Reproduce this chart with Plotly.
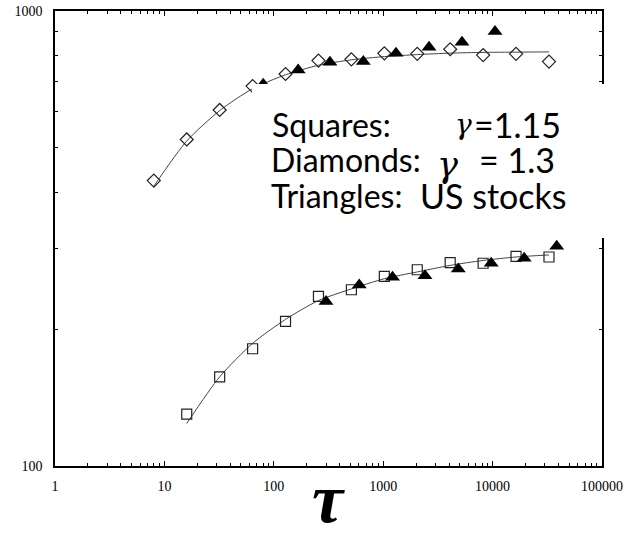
import plotly.graph_objects as go

# ---- data -------------------------------------------------------------
# model, gamma = 1.3 (diamonds)
diamond_tau = [8, 16, 32, 64, 128, 256, 512, 1024, 2048, 4096, 8192, 16384, 32768]
diamond_val = [424, 522, 606, 684, 727, 778, 783, 807, 805, 824, 800, 805, 774]

# model, gamma = 1.15 (squares)
square_tau = [16, 32, 64, 128, 256, 512, 1024, 2048, 4096, 8192, 16384, 32768]
square_val = [130, 157, 181, 208, 236, 244, 261, 270, 280, 279, 289, 288]

# US stocks (triangles), upper and lower sets
us_upper_tau = [80, 167, 326, 658, 1309, 2623, 5250, 10520]
us_upper_val = [690, 742, 772, 774, 808, 832, 854, 901]
us_lower_tau = [300, 604, 1217, 2410, 4857, 9710, 19450, 38550]
us_lower_val = [230, 250, 260, 262, 271, 279, 286, 304]

# fitted curves
fit_upper_tau = [8, 16, 32, 64, 128, 256, 512, 1024, 2048, 4096, 8192, 16384, 32768]
fit_upper_val = [412, 518, 604, 675, 724, 760, 781, 794, 802, 808, 811, 812, 813]
fit_lower_tau = [16, 32, 64, 128, 256, 512, 1024, 2048, 4096, 8192, 16384, 32768]
fit_lower_val = [124, 157, 186, 210, 231, 245, 258, 267, 276, 283, 288, 291]

x_tick_vals = [1, 10, 100, 1000, 10000, 100000]
x_tick_text = ["1", "10", "100", "1000", "10000", "100000"]
y_tick_vals = [100, 1000]
y_tick_text = ["100", "1000"]

# ---- figure -----------------------------------------------------------
W, H = 629, 534
ML, MR, MT, MB = 55, 27, 11, 68
PW, PH = W - ML - MR, H - MT - MB


def px_x(px):
    return (px - ML) / PW


def px_y(py):
    return (H - MB - py) / PH


fig = go.Figure()

for tx, ty in [(fit_upper_tau, fit_upper_val), (fit_lower_tau, fit_lower_val)]:
    fig.add_trace(go.Scatter(
        x=tx, y=ty, mode="lines",
        line=dict(color="#444444", width=1, shape="spline", smoothing=0.7),
        showlegend=False, hoverinfo="skip"))

fig.add_trace(go.Scatter(
    x=diamond_tau, y=diamond_val, mode="markers",
    marker=dict(symbol="diamond-open", size=10, color="#222222",
                line=dict(width=1.2, color="#222222")),
    showlegend=False))

fig.add_trace(go.Scatter(
    x=square_tau, y=square_val, mode="markers",
    marker=dict(symbol="square-open", size=10, color="#222222",
                line=dict(width=1.2, color="#222222")),
    showlegend=False))

for tx, ty in [(us_upper_tau, us_upper_val), (us_lower_tau, us_lower_val)]:
    fig.add_trace(go.Scatter(
        x=tx, y=ty, mode="markers",
        marker=dict(symbol="triangle-up", size=13, color="black",
                    line=dict(width=0)),
        showlegend=False))

tick_font = dict(family="Liberation Serif", size=14, color="black")

fig.update_xaxes(
    type="log", range=[0, 5], showgrid=False, zeroline=False, automargin=False,
    showline=True, linecolor="black", linewidth=1.5, mirror="ticks",
    ticks="inside", ticklen=5, tickwidth=1, tickcolor="black",
    tickmode="array", tickvals=x_tick_vals, ticktext=x_tick_text,
    tickfont=tick_font, ticklabelstandoff=6,
    minor=dict(ticks="inside", ticklen=3, tickwidth=1, tickcolor="black",
               dtick="D1", showgrid=False),
)
fig.update_yaxes(
    type="log", range=[2, 3], showgrid=False, zeroline=False, automargin=False,
    showline=True, linecolor="black", linewidth=1.5, mirror="ticks",
    ticks="inside", ticklen=5, tickwidth=1, tickcolor="black",
    tickmode="array", tickvals=y_tick_vals, ticktext=y_tick_text,
    tickfont=tick_font, ticklabelstandoff=8,
    minor=dict(ticks="inside", ticklen=3, tickwidth=1, tickcolor="black",
               dtick="D1", showgrid=False),
)

# white text panel laid over the right part of the plot
fig.add_shape(type="rect", xref="paper", yref="paper",
              x0=px_x(252), x1=px_x(640), y0=px_y(238), y1=px_y(84),
              fillcolor="white", line=dict(width=0), layer="above")

sans = dict(family="Lato", size=32, color="black")
sans_wide = dict(family="Lato", size=34, color="black")
greek = "DejaVu Serif"
nb = "\u00a0"

labels = [
    ("Squares:", 270, 124.5, sans),
    ("<i>γ</i>", 453, 124, dict(family=greek, size=28, color="black")),
    ("=1.15", 472, 124.5, sans_wide),
    ("Diamonds:", 269, 159.5, sans),
    ("<i>γ</i>", 435, 165, dict(family=greek, size=35, color="black")),
    ("=" + nb + "1.3", 477, 159.5, sans_wide),
    ("Triangles:", 269, 195, sans),
    ("US stocks", 418, 195, sans_wide),
]
for text, x, y, font in labels:
    fig.add_annotation(text=text, xref="paper", yref="paper",
                       x=px_x(x), y=px_y(y), xanchor="left", yanchor="middle",
                       showarrow=False, font=font)

# axis title
fig.add_annotation(text="<b><i>τ</i></b>", xref="paper", yref="paper",
                   x=px_x(328), y=px_y(539), xanchor="center", yanchor="bottom",
                   showarrow=False,
                   font=dict(family="Liberation Serif", size=70, color="black"))

fig.update_layout(
    template="none",
    width=W, height=H, autosize=False,
    margin=dict(l=ML, r=MR, t=MT, b=MB, pad=0),
    paper_bgcolor="white", plot_bgcolor="white",
)

fig.write_html("out.html")
